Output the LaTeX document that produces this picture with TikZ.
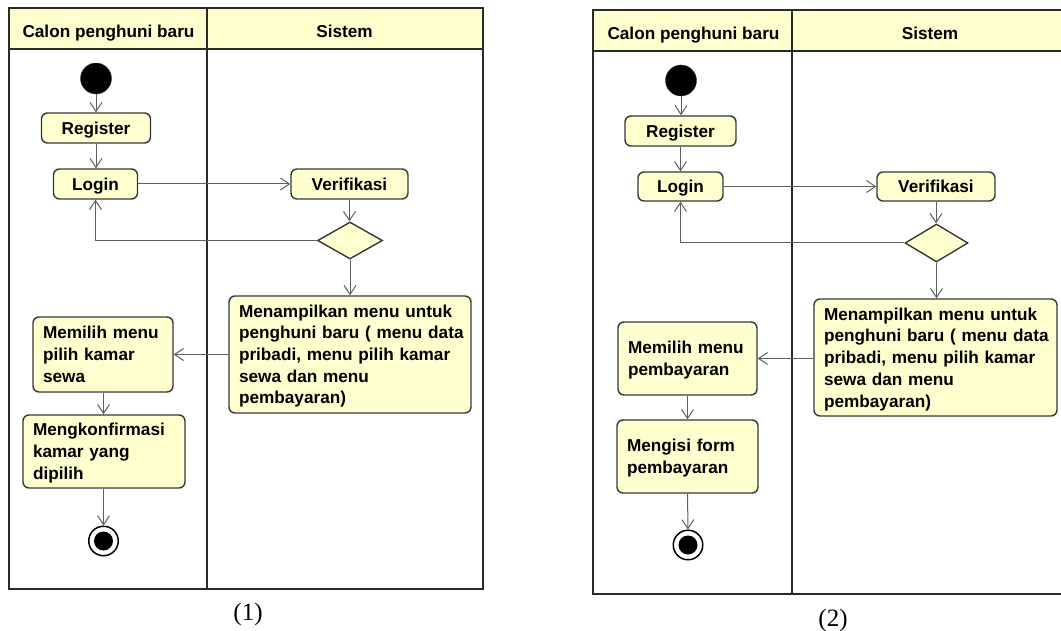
\documentclass[tikz,border=0pt]{standalone}
\usepackage{fontspec}
\setmainfont{Liberation Sans}
\newfontfamily\captionserif{Liberation Serif}
\usetikzlibrary{arrows.meta,shapes.geometric}
\definecolor{umlfill}{HTML}{FEFECE}
\definecolor{umlborder}{HTML}{383838}
\definecolor{laneline}{HTML}{2A2A2A}
\definecolor{flowgray}{HTML}{5F5F5F}
\begin{document}
\begin{tikzpicture}[x=1pt,y=-1pt,
  umltext/.style={font=\fontsize{17.2}{21.7}\selectfont\bfseries,text=black},
  lanebox/.style={draw=laneline,line width=1.5pt},
  laneheader/.style={lanebox,fill=umlfill},
  lanetitle/.style={umltext,anchor=base,inner sep=0pt},
  action/.style={umltext,draw=umlborder,fill=umlfill,line width=1.4pt,
    rounded corners=6pt,inner sep=0pt,text height=12.2pt},
  shortact/.style={action,text depth=0pt},
  longact/.style={action,align=left,inner xsep=10pt},
  startnode/.style={circle,fill=black,draw=black!80,inner sep=0pt,minimum size=31pt},
  endnode/.style={circle,draw=black,line width=1.5pt,fill=white,inner sep=0pt,
    minimum size=29.5pt,
    path picture={\fill[black] (path picture bounding box.center) circle (9.5pt);}},
  decision/.style={diamond,draw=umlborder,fill=umlfill,line width=1.4pt,inner sep=0pt},
  flow/.style={draw=flowgray,line width=1pt,-{Straight Barb[length=9pt,width=12pt]}},
  figcaption/.style={font=\captionserif\fontsize{25}{30}\selectfont,anchor=base,inner sep=0pt}
]
\useasboundingbox (0,0) rectangle (1061,631);
\clip (0,0) rectangle (1061,631);

% ---------------- Activity diagram (1) ----------------
\filldraw[laneheader] (9,8) rectangle (483,49);
\draw[lanebox] (9,8) rectangle (483,589);
\draw[lanebox] (207,8) -- (207,589);
\node[lanetitle] (a-lane1) at (108.5,37.7) {Calon penghuni baru};
\node[lanetitle] (a-lane2) at (344.5,37.7) {Sistem};

\node[startnode] (a-start) at (96,78.5) {};
\node[shortact,minimum width=109pt,minimum height=30pt] (a-reg) at (96,128) {Register};
\node[shortact,minimum width=84pt,minimum height=30pt] (a-login) at (95.5,184) {Login};
\node[shortact,minimum width=117pt,minimum height=30pt] (a-verif) at (349.5,184) {Verifikasi};
\node[decision,minimum width=65pt,minimum height=37pt] (a-dec) at (350,240.5) {};
\node[longact,text width=222pt,minimum height=117pt,text depth=86.8pt] (a-menu) at (350,354.5)
  {\mbox{Menampilkan menu untuk}\\\mbox{penghuni baru ( menu data}\\\mbox{pribadi, menu pilih kamar}\\\mbox{sewa dan menu}\\\mbox{pembayaran)}};
\node[longact,text width=120pt,minimum height=75pt,text depth=43.4pt] (a-pilih) at (103,354.5)
  {\mbox{Memilih menu}\\\mbox{pilih kamar}\\\mbox{sewa}};
\node[longact,text width=142pt,minimum height=73pt,text depth=43.4pt] (a-konf) at (104,451.5)
  {\mbox{Mengkonfirmasi}\\\mbox{kamar yang}\\\mbox{dipilih}};
\node[endnode] (a-end) at (103.5,541) {};

\draw[flow] (a-start.south) -- (a-start.south |- a-reg.north);
\draw[flow] (a-reg.south) -- (a-reg.south |- a-login.north);
\draw[flow] (a-login.east) -- (a-verif.west);
\draw[flow] (a-verif.south) -- (a-verif.south |- a-dec.north);
\draw[flow] (a-dec.west) -| (a-login.south);
\draw[flow] (a-dec.south) -- (a-dec.south |- a-menu.north);
\draw[flow] (a-menu.west |- a-pilih.east) -- (a-pilih.east);
\draw[flow] (a-pilih.south -| a-end.north) -- (a-end.north |- a-konf.north);
\draw[flow] (a-konf.south -| a-end.north) -- (a-end.north);

\node[figcaption] (a-cap) at (248,620.5) {(1)};

% ---------------- Activity diagram (2) ----------------
\filldraw[laneheader] (593,10) rectangle (1070,51);
\draw[lanebox] (593,10) rectangle (1070,594);
\draw[lanebox] (792,10) -- (792,594);
\node[lanetitle] (b-lane1) at (693.5,39.5) {Calon penghuni baru};
\node[lanetitle] (b-lane2) at (930,39.5) {Sistem};

\node[startnode] (b-start) at (681,80.5) {};
\node[shortact,minimum width=111pt,minimum height=30pt] (b-reg) at (680.5,131) {Register};
\node[shortact,minimum width=85pt,minimum height=29pt] (b-login) at (680.5,186.5) {Login};
\node[shortact,minimum width=118pt,minimum height=29pt] (b-verif) at (936,186.5) {Verifikasi};
\node[decision,minimum width=63pt,minimum height=38pt] (b-dec) at (936.5,243) {};
\node[longact,text width=223pt,minimum height=117pt,text depth=86.8pt] (b-menu) at (935.5,357.5)
  {\mbox{Menampilkan menu untuk}\\\mbox{penghuni baru ( menu data}\\\mbox{pribadi, menu pilih kamar}\\\mbox{sewa dan menu}\\\mbox{pembayaran)}};
\node[longact,text width=119pt,minimum height=73pt,text depth=21.7pt] (b-bayar) at (687.5,358.5)
  {\mbox{Memilih menu}\\\mbox{pembayaran}};
\node[longact,text width=121pt,minimum height=73pt,text depth=21.7pt] (b-form) at (687.5,456.5)
  {\mbox{Mengisi form}\\\mbox{pembayaran}};
\node[endnode] (b-end) at (688,545) {};

\draw[flow] (b-start.south) -- (b-start.south |- b-reg.north);
\draw[flow] (b-reg.south) -- (b-reg.south |- b-login.north);
\draw[flow] (b-login.east) -- (b-verif.west);
\draw[flow] (b-verif.south) -- (b-verif.south |- b-dec.north);
\draw[flow] (b-dec.west) -| (b-login.south);
\draw[flow] (b-dec.south) -- (b-dec.south |- b-menu.north);
\draw[flow] (b-menu.west |- b-bayar.east) -- (b-bayar.east);
\draw[flow] (b-bayar.south) -- (b-form.north);
\draw[flow] (b-form.south) -- (b-end.north);

\node[figcaption] (b-cap) at (833,626) {(2)};
\end{tikzpicture}
\end{document}
